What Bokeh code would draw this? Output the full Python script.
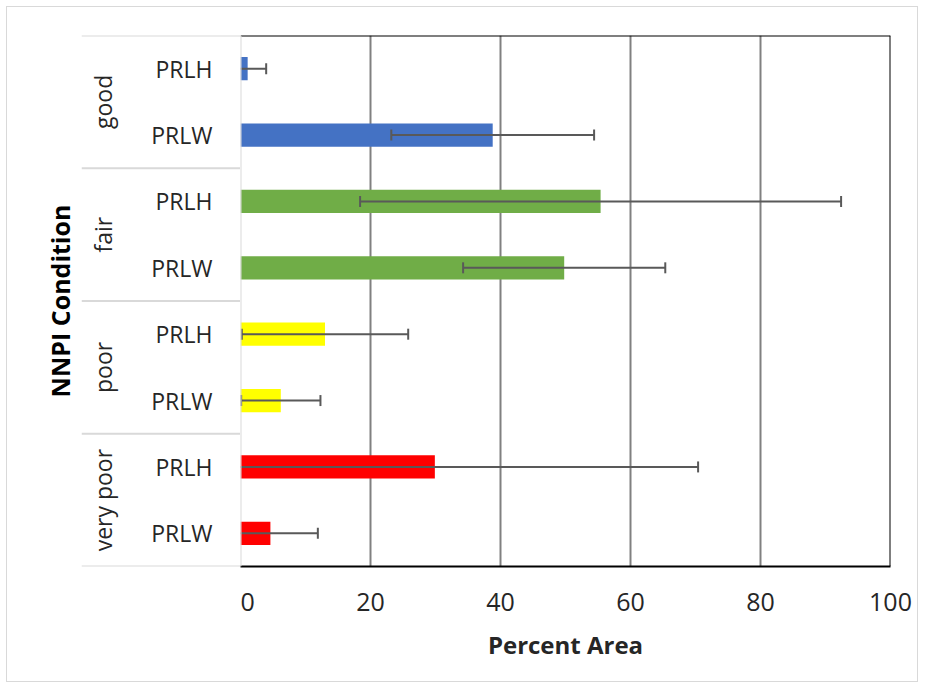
import math
from bokeh.plotting import figure
from bokeh.layouts import row
from bokeh.models import FactorRange, Range1d, FixedTicker, Span, Title, ColumnDataSource
from bokeh.core.properties import value
from bokeh.embed import file_html
from bokeh.resources import INLINE

# ---- data (top to bottom as in the chart) ----
groups = ["good", "good", "fair", "fair", "poor", "poor", "very poor", "very poor"]
subs = ["PRLH", "PRLW", "PRLH", "PRLW", "PRLH", "PRLW", "PRLH", "PRLW"]
values = [1.1, 38.8, 55.4, 49.8, 13.0, 6.2, 29.9, 4.6]
errors = [2.85, 15.6, 37.0, 15.55, 12.8, 6.1, 40.5, 7.3]
group_order = ["good", "fair", "poor", "very poor"]
group_colors = {"good": "#4472C4", "fair": "#70AD47", "poor": "#FFFF00", "very poor": "#FF0000"}
x_ticks = [0, 20, 40, 60, 80, 100]
grid_ticks = [20, 40, 60, 80]

FONT = "Open Sans"
TXT = "#262626"

factors = [(g, s) for g, s in zip(groups, subs)]
y_range = FactorRange(factors=list(reversed(factors)), range_padding=0,
                      group_padding=0, factor_padding=0, subgroup_padding=0)

lo = [max(0.0, v - e) for v, e in zip(values, errors)]
hi = [v + e for v, e in zip(values, errors)]
colors = [group_colors[g] for g in groups]

src = ColumnDataSource(dict(y=factors, v=values, lo=lo, hi=hi, color=colors))

# caps: only where the error end is not clipped at 0
cap_x, cap_y = [], []
for f, v, e, l, h in zip(factors, values, errors, lo, hi):
    if v - e >= 0:
        cap_x.append(l); cap_y.append(f)
    cap_x.append(h); cap_y.append(f)

# ---- main plot ----
p = figure(width=677, height=674, y_range=y_range, x_range=Range1d(0, 100),
           output_backend="svg", toolbar_location=None, y_axis_location=None,
           min_border_left=0, min_border_right=27, min_border_top=28, min_border_bottom=115)
p.outline_line_color = None
p.background_fill_color = "white"
p.border_fill_color = "white"

p.hbar(y="y", left=0, right="v", height=0.35, fill_color="color", line_color=None, source=src)
p.segment(x0="lo", x1="hi", y0="y", y1="y", line_color="#595959", line_width=2, source=src)
p.scatter(x=cap_x, y=cap_y, marker="dash", angle=math.pi / 2, size=11,
          line_color="#595959", line_width=2)

p.ygrid.grid_line_color = None
p.xgrid.ticker = FixedTicker(ticks=grid_ticks)
p.xgrid.grid_line_color = "#808080"
p.xgrid.grid_line_width = 2
p.xgrid.level = "underlay"

ax = p.xaxis[0]
ax.ticker = FixedTicker(ticks=x_ticks)
ax.axis_line_color = "black"
ax.axis_line_width = 2
ax.major_tick_line_color = None
ax.minor_tick_line_color = None
ax.major_label_text_font = FONT
ax.major_label_text_font_size = "25px"
ax.major_label_text_color = TXT
ax.major_label_standoff = 20
ax.axis_label = "Percent Area"
ax.axis_label_text_font = FONT
ax.axis_label_text_font_size = "24px"
ax.axis_label_text_font_style = "bold"
ax.axis_label_text_color = TXT
ax.axis_label_standoff = 14

n = len(factors)
p.add_layout(Span(location=100, dimension="height", line_color="black", line_width=2))
p.add_layout(Span(location=n, dimension="width", line_color="black", line_width=2))
p.add_layout(Span(location=0, dimension="height", line_color="#d9d9d9", line_width=2))

# ---- left category panel ----
pl = figure(width=233, height=674, y_range=y_range, x_range=Range1d(0, 1),
            output_backend="svg", toolbar_location=None,
            x_axis_location=None, y_axis_location=None,
            min_border_left=74, min_border_right=0, min_border_top=28, min_border_bottom=115)
pl.outline_line_color = None
pl.xgrid.visible = False
pl.ygrid.visible = False

pl.text(x=[0.824] * n, y=factors, text=subs, text_align="right", text_baseline="middle",
        text_font=value(FONT), text_font_size="23px", text_color=TXT)

pl.text(x=[0.135] * len(group_order), y=group_order, text=group_order, angle=math.pi / 2,
        text_align="center", text_baseline="middle",
        text_font=value(FONT), text_font_size="23px", text_color=TXT)

# separators between groups (cumulative group sizes)
counts = [groups.count(g) for g in group_order]
pos = [0]
for c in reversed(counts):
    pos.append(pos[-1] + c)
for loc in pos:
    pl.add_layout(Span(location=loc, dimension="width", line_color="#d9d9d9", line_width=2))

pl.add_layout(Title(text="NNPI Condition", align="center", text_font=FONT,
                    text_font_size="25px", text_font_style="bold", text_color="black"), "left")

layout = row(pl, p, styles={"border": "1px solid #d9d9d9", "margin": "6px"})

open("out.html", "w").write(file_html(layout, INLINE))
